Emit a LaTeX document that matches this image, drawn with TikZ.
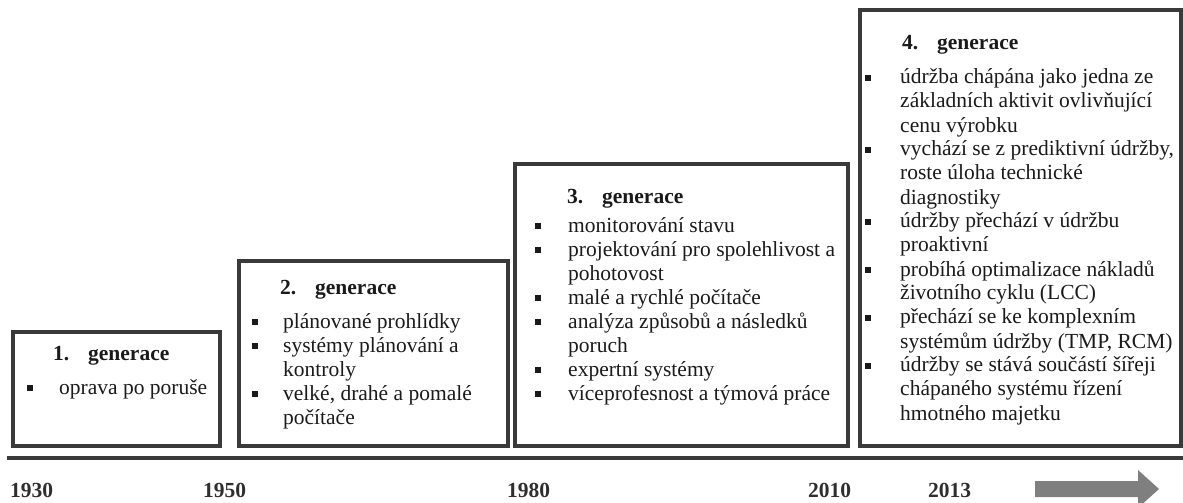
\documentclass[tikz,border=0pt]{standalone}
\usepackage{fontspec}
\setmainfont{Liberation Serif}
\usepackage{array}
\definecolor{boxgray}{HTML}{3A3A3A}
\definecolor{txt}{HTML}{1A1A1A}
\definecolor{yeartxt}{HTML}{2E2E2E}
\definecolor{arrowgray}{HTML}{7F7F7F}
\newcommand{\bodyfont}{\fontsize{21.5}{24}\selectfont}
\newcommand{\sqbul}{\rule[3pt]{6pt}{6pt}}
\newcommand{\hd}[1]{\makebox[35pt][l]{#1}generace}
\begin{document}
\begin{tikzpicture}[x=1pt,y=-1pt,
  genbox/.style={draw=boxgray, line width=3.5pt},
  items/.style={anchor=base west, inner sep=0pt, font=\bodyfont, text=txt},
  head/.style={anchor=base west, inner sep=0pt, font=\bodyfont\bfseries, text=txt},
  year/.style={anchor=base west, inner sep=0pt, font=\bodyfont\bfseries, text=yeartxt}]
\useasboundingbox (0,0) rectangle (1183,503);
\clip (0,0) rectangle (1183,503);
% boxes
\path[genbox] (13,332) rectangle (220,446);
\path[genbox] (239,261) rectangle (508,446);
\path[genbox] (515,164) rectangle (848,446);
\path[genbox] (860,10) rectangle (1181,446);
% headings
\node[head] (h1) at (53,360) {\hd{1.}};
\node[head] (h2) at (280,294) {\hd{2.}};
\node[head] (h3) at (567,203) {\hd{3.}};
\node[head] (h4) at (902,49) {\hd{4.}};
% items
\node[items] (t1) at (27,394) {\begin{tabular}[t]{@{}p{32pt}@{}l@{}}
\sqbul & oprava po poruše
\end{tabular}};
\node[items] (t2) at (252,328) {\begin{tabular}[t]{@{}p{31pt}@{}l@{}}
\sqbul & plánované prohlídky\\
\sqbul & systémy plánování a\\
 & kontroly\\
\sqbul & velké, drahé a pomalé\\
 & počítače
\end{tabular}};
\node[items] (t3) at (535,232) {\begin{tabular}[t]{@{}p{33pt}@{}l@{}}
\sqbul & monitorování stavu\\
\sqbul & projektování pro spolehlivost a\\
 & pohotovost\\
\sqbul & malé a rychlé počítače\\
\sqbul & analýza způsobů a následků\\
 & poruch\\
\sqbul & expertní systémy\\
\sqbul & víceprofesnost a týmová práce
\end{tabular}};
\node[items] (t4) at (865,84) {\begin{tabular}[t]{@{}p{35pt}@{}l@{}}
\sqbul & údržba chápána jako jedna ze\\
 & základních aktivit ovlivňující\\
 & cenu výrobku\\
\sqbul & vychází se z prediktivní údržby,\\
 & roste úloha technické\\
 & diagnostiky\\
\sqbul & údržby přechází v údržbu\\
 & proaktivní\\
\sqbul & probíhá optimalizace nákladů\\
 & životního cyklu (LCC)\\
\sqbul & přechází se ke komplexním\\
 & systémům údržby (TMP, RCM)\\
\sqbul & údržby se stává součástí šířeji\\
 & chápaného systému řízení\\
 & hmotného majetku
\end{tabular}};
% timeline
\coordinate (ls) at (7,458);
\coordinate (le) at (1183,458);
\draw[boxgray, line width=3.5pt] (ls) -- (le);
% years
\node[year] (y1) at (10,497) {1930};
\node[year] (y2) at (203,497) {1950};
\node[year] (y3) at (507,497) {1980};
\node[year] (y4) at (808,497) {2010};
\node[year] (y5) at (928,497) {2013};
% arrow
\fill[arrowgray] (1035,481) -- (1138,481) -- (1138,470) -- (1159,489) -- (1138,508) -- (1138,497) -- (1035,497) -- cycle;
\end{tikzpicture}
\end{document}
